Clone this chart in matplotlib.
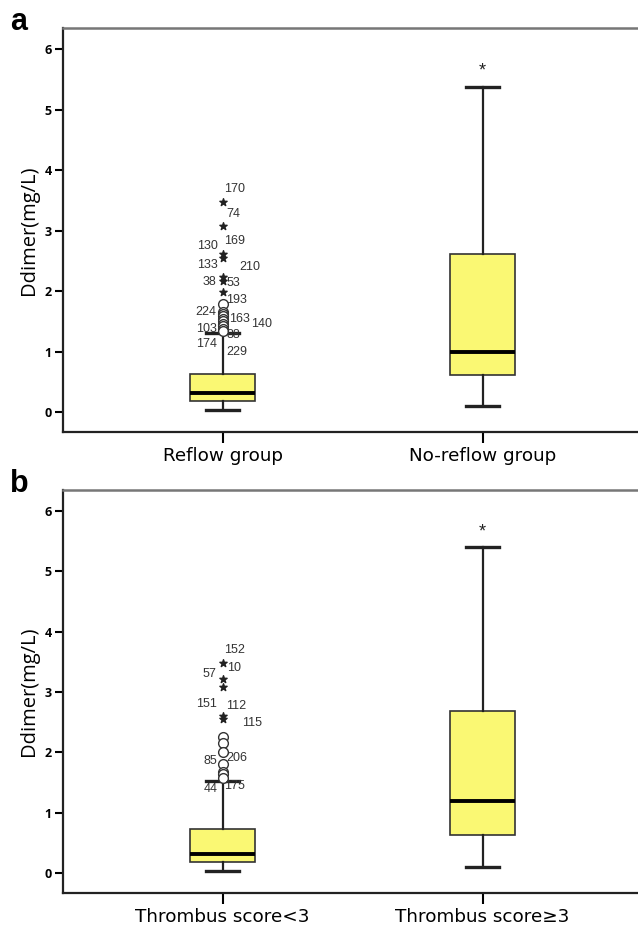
import matplotlib.pyplot as plt

# panel a
a_groups = ['Reflow group', 'No-reflow group']
a_q1 = [0.18, 0.61]
a_med = [0.31, 0.99]
a_q3 = [0.63, 2.62]
a_lo = [0.03, 0.10]
a_hi = [1.31, 5.38]
a_circles = [1.78, 1.66, 1.62, 1.58, 1.54, 1.50, 1.46, 1.42, 1.38, 1.34]
a_stars = [3.47, 3.08, 2.62, 2.54, 2.23, 2.16, 1.99]
a_ids = ['170', '74', '130', '169', '133', '210', '38', '53', '193', '224',
         '163', '140', '103', '88', '174', '229']
a_id_x = [1.047, 1.041, 0.941, 1.047, 0.941, 1.105, 0.951, 1.041, 1.054, 0.936,
          1.064, 1.150, 0.938, 1.041, 0.938, 1.054]
a_id_y = [3.69, 3.28, 2.74, 2.82, 2.43, 2.39, 2.15, 2.13, 1.86, 1.66,
          1.54, 1.46, 1.38, 1.28, 1.12, 0.99]

# panel b
b_groups = ['Thrombus score<3', 'Thrombus score\u22653']
b_q1 = [0.19, 0.63]
b_med = [0.31, 1.20]
b_q3 = [0.73, 2.69]
b_lo = [0.03, 0.10]
b_hi = [1.52, 5.40]
b_circles = [2.25, 2.16, 2.00, 1.81, 1.67, 1.64, 1.57]
b_stars = [3.49, 3.22, 3.09, 2.61, 2.55]
b_ids = ['152', '10', '57', '151', '112', '115', '85', '206', '44', '175']
b_id_x = [1.047, 1.043, 0.951, 0.938, 1.051, 1.112, 0.951, 1.054, 0.954, 1.047]
b_id_y = [3.70, 3.40, 3.30, 2.80, 2.77, 2.49, 1.86, 1.90, 1.39, 1.45]

YELLOW = '#FAF873'


def draw_panel(ax, groups, q1, med, q3, lo, hi, circles, stars, ids, idx, idy, letter):
    stats = []
    for i in range(len(groups)):
        stats.append(dict(med=med[i], q1=q1[i], q3=q3[i], whislo=lo[i], whishi=hi[i],
                          fliers=circles if i == 0 else []))
    ax.bxp(stats, positions=[1, 2], widths=0.25, capwidths=0.125, patch_artist=True,
           boxprops=dict(facecolor=YELLOW, edgecolor='#333333', linewidth=1.2),
           medianprops=dict(color='black', linewidth=2.8),
           whiskerprops=dict(color='#222222', linewidth=1.6),
           capprops=dict(color='#222222', linewidth=2.4),
           flierprops=dict(marker='o', markerfacecolor='white', markeredgecolor='#333333',
                           markersize=7, markeredgewidth=1.0))
    ax.scatter([1] * len(stars), stars, marker='*', s=30, color='#222222', zorder=4)
    for t, x, y in zip(ids, idx, idy):
        ax.text(x, y, t, ha='center', va='center', fontsize=9, color='#333333',
                family='Liberation Sans')
    ax.text(2.0, hi[1] + 0.26, '*', ha='center', va='center', fontsize=13, color='#222222',
            family='Liberation Sans')
    ax.set_xlim(0.386, 2.613)
    ax.set_ylim(-0.33, 6.35)
    ax.set_yticks(range(7))
    ax.set_yticklabels([str(v) for v in range(7)], fontsize=9, fontweight='bold',
                       family='Open Sans')
    ax.set_xticks([1, 2])
    ax.set_xticklabels(groups, fontsize=13.2, family='DejaVu Sans')
    ax.tick_params(axis='y', length=6, width=1.5, pad=2)
    ax.tick_params(axis='x', length=8, width=1.5, pad=3)
    ax.set_ylabel('Ddimer(mg/L)', fontsize=14.5, family='Open Sans', labelpad=4)
    for s in ['left', 'bottom']:
        ax.spines[s].set_linewidth(1.6)
        ax.spines[s].set_color('#222222')
    ax.spines['top'].set_linewidth(1.8)
    ax.spines['top'].set_color('#777777')
    ax.text(-0.091, 0.994, letter, transform=ax.transAxes, fontsize=22, fontweight='bold',
            family='Liberation Sans', ha='left', va='baseline')


fig = plt.figure(figsize=(6.38, 9.27), dpi=100)
ax1 = fig.add_axes([63 / 638, 495 / 927, 579 / 638, 404 / 927])
ax2 = fig.add_axes([63 / 638, 34 / 927, 579 / 638, 403 / 927])
draw_panel(ax1, a_groups, a_q1, a_med, a_q3, a_lo, a_hi, a_circles, a_stars,
           a_ids, a_id_x, a_id_y, 'a')
draw_panel(ax2, b_groups, b_q1, b_med, b_q3, b_lo, b_hi, b_circles, b_stars,
           b_ids, b_id_x, b_id_y, 'b')
fig.savefig('out.png', dpi=100)
